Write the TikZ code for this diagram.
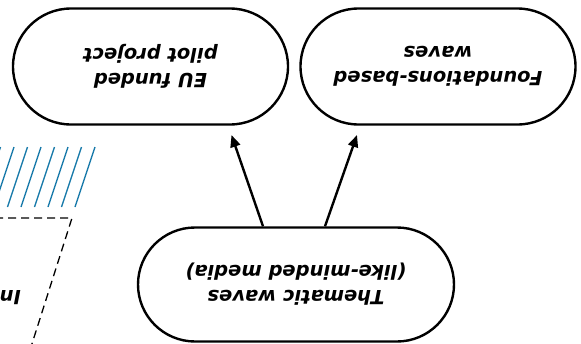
\documentclass[tikz,border=0pt]{standalone}
\usepackage{fontspec}
\setmainfont{DejaVu Sans}
\usetikzlibrary{shapes.misc,arrows.meta,calc}
\definecolor{hatchblue}{RGB}{24,122,170}
\tikzset{
  stadium/.style={rounded rectangle, draw, line width=2.4pt, rotate=180,
    align=center, inner sep=0pt,
    font=\bfseries\itshape\fontsize{19.5}{25}\selectfont},
  flow/.style={-{Triangle[length=12pt,width=10pt]}, line width=2.4pt},
  hatch/.style={hatchblue, line width=1.4pt},
  border/.style={dashed, dash pattern=on 8pt off 5pt, line width=1.3pt},
  labeltext/.style={rotate=180, inner sep=0pt,
    font=\bfseries\itshape\fontsize{19.5}{25}\selectfont}
}
\begin{document}
\begin{tikzpicture}[x=1pt,y=1pt]
\useasboundingbox (0,0) rectangle (581,-343);
\clip (0,0) rectangle (581,-343);

% upper row of outcomes
\node[stadium, minimum width=275, minimum height=116] (eu) at (150.5,-66.5)
  {EU funded\\pilot project};
\node[stadium, minimum width=275, minimum height=116] (fw) at (438,-66.5)
  {Foundations-based\\waves};

% source node
\node[stadium, minimum width=316, minimum height=114] (th) at (296,-284.5)
  {Thematic waves\\(like-minded media)};

% arrows leaving the top edge of the source node
\coordinate (tipL) at (231.5,-135);
\coordinate (tipR) at (357,-135);
\draw[flow] ($(th.south)+(-33,0)$) -- (tipL);
\draw[flow] ($(th.south)+(29,0)$) -- (tipR);

% hatched strip
\foreach \k in {-1,...,7}
  \draw[hatch] ({13.5*\k+0.5},-147) -- ({13.5*\k-19.5},-207);

% dashed outline
\coordinate (d0) at (-5,-218);
\coordinate (d1) at (72,-218);
\coordinate (d2) at (30,-350);
\draw[border] (d0) -- (d1) -- (d2);

% partial label
\node[labeltext, anchor=base west] (inl) at (21,-290) {In};
\end{tikzpicture}
\end{document}
